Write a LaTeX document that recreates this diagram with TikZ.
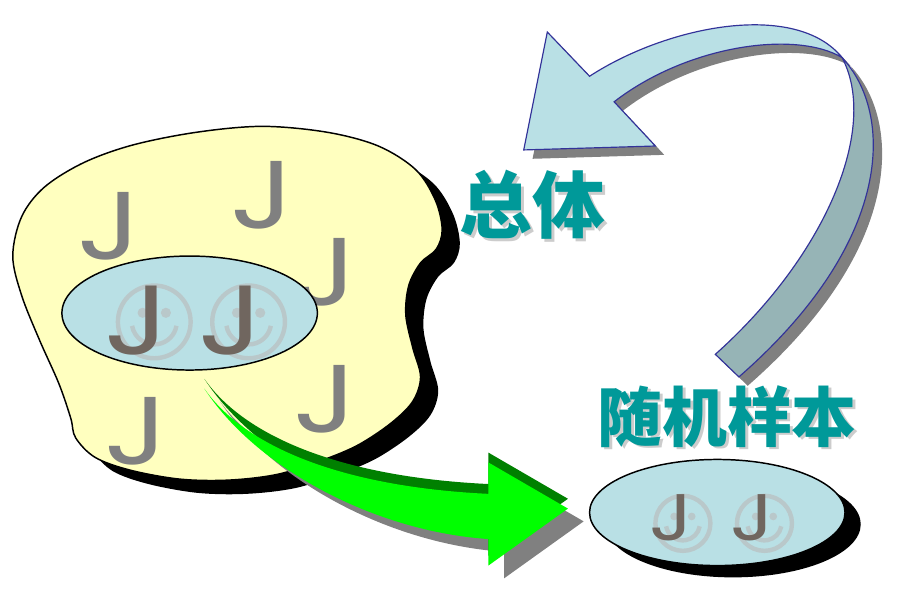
\documentclass[tikz,border=0pt]{standalone}
\usepackage{fontspec}
\setmainfont{Poppins}
\newfontfamily\jfont[FakeStretch=1.25]{Poppins}
\newfontfamily\cjk{Noto Sans CJK SC}

\definecolor{blobyellow}{RGB}{255,255,191}
\definecolor{icefill}{RGB}{185,224,229}
\definecolor{iceside}{RGB}{150,180,182}
\definecolor{edgeblue}{RGB}{51,51,153}
\definecolor{jdark}{RGB}{112,102,95}
\definecolor{jgray}{RGB}{128,128,128}
\definecolor{labelteal}{RGB}{0,153,153}
\definecolor{greenface}{RGB}{0,255,0}
\definecolor{greenedge}{RGB}{0,128,0}

\tikzset{every picture/.style={line width=0.75pt}}
\tikzset{
  member/.style={text=jgray, inner sep=0pt, font=\jfont\fontsize{98}{98}\selectfont},
  picked/.style={text=jdark, inner sep=0pt, font=\jfont\fontsize{100}{100}\selectfont},
  drawn/.style={text=jdark, inner sep=0pt, font=\jfont\fontsize{67}{67}\selectfont},
  title/.style={text=labelteal, inner sep=0pt, font=\cjk\bfseries\fontsize{#1}{#1}\selectfont},
  titleshadow/.style={text=gray!40, inner sep=0pt, font=\cjk\bfseries\fontsize{#1}{#1}\selectfont},
  smileline/.style={draw=gray!55, draw opacity=0.6, line width=4.5pt},
  smiledot/.style={fill=gray!55, fill opacity=0.6}
}

% outlines, drawn once per layer (shadow, extrusion, face)
\newcommand\blobshape[1]{\path[#1] plot[smooth cycle, tension=0.55] coordinates {
    (13,255) (22,215) (45,185) (85,160) (135,142) (200,129) (267,123) (333,129)
    (385,143) (423,167) (443,198) (450,228) (444,248) (428,262) (416,285) (413,315)
    (420,348) (428,378) (420,403) (398,425) (365,447) (330,462) (283,477) (233,483)
    (183,482) (133,473) (97,460) (77,440) (72,420) (60,385) (40,340) (22,295)};}
\newcommand\pushshape[1]{\path[#1] (208,390) .. controls (250,450) and (350,490) .. (497,497)
    -- (497,465) -- (578,512) -- (497,570) -- (497,543)
    .. controls (380,535) and (260,470) .. cycle;}
\newcommand\returnside[1]{\path[#1] (857,53) .. controls (910,110) and (910,240) .. (752,378)
    -- (728,355) .. controls (840,255) and (895,125) .. cycle;}
\newcommand\returnface[1]{\path[#1] (533,147) -- (557,27) -- (600,72)
    .. controls (680,20) and (810,-5) .. (857,53)
    .. controls (810,25) and (700,40) .. (625,98) -- (667,143) -- cycle;}
\newcommand\smiley[2]{\begin{scope}[shift={#1}, scale=#2]
    \draw[smileline] (0,0) circle (1);
    \fill[smiledot] (-0.32,-0.25) circle (0.14) (0.32,-0.25) circle (0.14);
    \draw[smileline] (170:0.62) arc[start angle=170, end angle=10, radius=0.62];
  \end{scope}}

\begin{document}
\begin{tikzpicture}[x=1pt,y=-1pt]
\path (0,0) rectangle (903,593);

%Shape: Population blob
\blobshape{fill=black, shift={(18,14)}}
\blobshape{fill=blobyellow, draw=black, line width=1.5pt}

% Text Node
\node[member] (m1) at (111,225) {J};
\node[member] (m2) at (267,193) {J};
\node[member] (m3) at (331,272) {J};
\node[member] (m4) at (331,401) {J};
\node[member] (m5) at (139,433) {J};

%Shape: Ellipse [inner sample]
\draw[fill=icefill, line width=1.5pt] (193,313) ellipse [x radius=130, y radius=58];
\smiley{(157,322)}{37}
\smiley{(253,322)}{37}
\node[picked] (p1) at (139,321) {J};
\node[picked] (p2) at (235,321) {J};

%Shape: Curved Right Arrow
\pushshape{fill=gray, shift={(16,13)}}
\pushshape{fill=greenedge, shift={(0,-10)}}
\pushshape{fill=greenface}

%Shape: Ellipse [drawn sample]
\fill[black] (746,528) ellipse [x radius=130, y radius=54];
\draw[fill=icefill, line width=1.5pt] (730,516) ellipse [x radius=130, y radius=54];
\smiley{(695,527)}{28}
\smiley{(778,527)}{28}
\node[drawn] (d1) at (683,521) {J};
\node[drawn] (d2) at (766,521) {J};

%Shape: Curved Up Arrow
\returnside{fill=gray, shift={(9,9)}}
\returnface{fill=gray, shift={(9,9)}}
\returnside{fill=iceside, draw=edgeblue, line width=1.2pt}
\returnface{fill=icefill, draw=edgeblue, line width=1.2pt}

% Text Node
\node[titleshadow=74] at (545,206) {总体};
\node[title=74] (pop) at (542,203) {总体};
% Text Node
\node[titleshadow=66] at (743,421) {随机样本};
\node[title=66] (smp) at (740,418) {随机样本};
\end{tikzpicture}
\end{document}
